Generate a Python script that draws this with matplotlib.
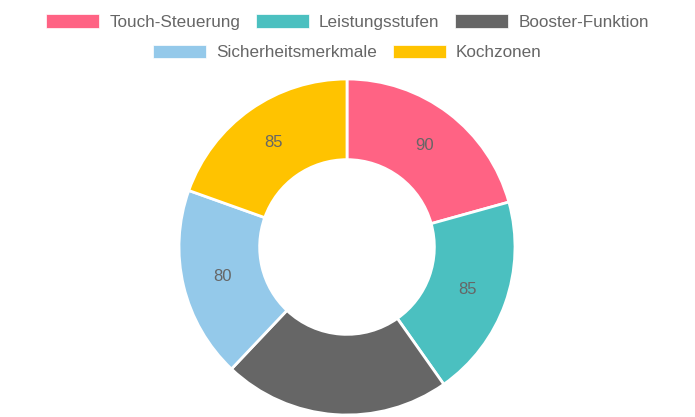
import matplotlib
matplotlib.use("Agg")
import matplotlib.pyplot as plt
from matplotlib.patches import Patch

categories = ["Touch-Steuerung", "Leistungsstufen", "Booster-Funktion", "Sicherheitsmerkmale", "Kochzonen"]
values = [90, 85, 95, 80, 85]
colors = ["#FF6384", "#4BC0C0", "#666666", "#94C9EA", "#FFC300"]

plt.rcParams['font.family'] = ['Liberation Sans', 'DejaVu Sans']
W, H = 695, 417
fig = plt.figure(figsize=(W / 100, H / 100), dpi=100)

R = 168
cx, cy = 347, 170
ax = fig.add_axes([(cx - R) / W, (cy - R) / H, 2 * R / W, 2 * R / H])
total = sum(values)
wedges, texts = ax.pie(
    values, colors=colors, startangle=90, counterclock=False, radius=1,
    wedgeprops=dict(width=0.48, edgecolor="white", linewidth=2),
    autopct=lambda p: f"{round(p * total / 100)}", pctdistance=0.76,
    textprops=dict(color="#666666", fontsize=12),
)[:2]
ax.set_xlim(-1, 1)
ax.set_ylim(-1, 1)
ax.set_aspect("equal")
ax.axis("off")

handles = [Patch(facecolor=c, edgecolor="white", linewidth=0.5) for c in colors]
common = dict(frameon=False, fontsize=12.35, handlelength=3.09, handleheight=0.82,
              handletextpad=0.58, columnspacing=0.93, labelcolor="#666666", borderpad=0)
leg1 = fig.legend(handles[:3], categories[:3], ncol=3, loc="center",
                  bbox_to_anchor=(0.5, 1 - 22 / H), **common)
leg2 = fig.legend(handles[3:], categories[3:], ncol=2, loc="center",
                  bbox_to_anchor=(0.5, 1 - 52.5 / H), **common)

fig.savefig("out.png", dpi=100)
